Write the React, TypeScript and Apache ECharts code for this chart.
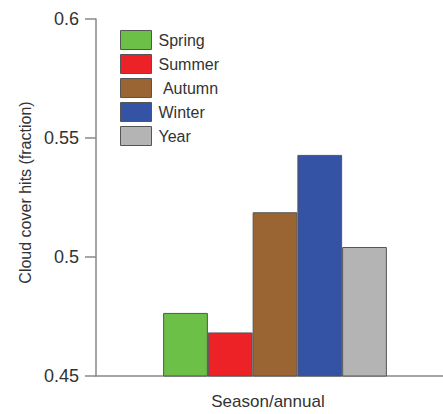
import React, { useEffect, useRef } from "react";
import * as echarts from "echarts";

const seriesNames = ["Spring", "Summer", "Autumn", "Winter", "Year"];
const seriesValues = [0.4765, 0.4683, 0.5188, 0.5429, 0.5042];
const seriesColors = ["#6cbf47", "#ec2227", "#9a6533", "#3553a4", "#b4b4b4"];
// category slots: two empty slots on the left, one per series, two empty on the right
const categories = ["", "", "Spring", "Summer", "Autumn", "Winter", "Year", "", ""];
const yTicks = [0.45, 0.5, 0.55, 0.6];

export default function App() {
  const ref = useRef<HTMLDivElement>(null);
  useEffect(() => {
    if (!ref.current) return;
    const chart = echarts.init(ref.current, undefined, { renderer: "svg" });
    const font = "Liberation Sans, Arial, Helvetica, sans-serif";
    const series = seriesNames.map((name, i) => ({
      name,
      type: "bar",
      barGap: "-100%",
      barWidth: "100%",
      data: categories.map((c) => (c === name ? seriesValues[i] : "-")),
      itemStyle: { color: seriesColors[i], borderColor: "#555", borderWidth: 1 },
    }));
    chart.setOption({
      animation: false,
      backgroundColor: "#fff",
      textStyle: { fontFamily: font },
      grid: {
        left: 96,
        top: 19,
        width: 358,
        height: 357,
        containLabel: false,
        outerBoundsMode: "none",
      },
      legend: {
        orient: "vertical",
        left: 120,
        top: 30,
        padding: 0,
        itemWidth: 31,
        itemHeight: 19,
        itemGap: 4,
        icon: "rect",
        selectedMode: false,
        itemStyle: { borderColor: "#555", borderWidth: 1 },
        formatter: (n: string) => (n === "Autumn" ? "\u00a0Autumn" : n),
        textStyle: { fontSize: 16, color: "#333", fontFamily: font, padding: [0, 0, 0, 2] },
        data: seriesNames,
      },
      xAxis: {
        type: "category",
        data: categories,
        boundaryGap: false,
        name: "Season/annual",
        nameLocation: "middle",
        nameGap: 17,
        nameTextStyle: { fontSize: 17, color: "#333", fontFamily: font, padding: [0, 14, 0, 0] },
        axisLine: { lineStyle: { color: "#888", width: 1.5 } },
        axisTick: { show: false },
        axisLabel: { show: false },
        splitLine: { show: false },
      },
      yAxis: {
        type: "value",
        min: yTicks[0],
        max: yTicks[yTicks.length - 1],
        interval: 0.05,
        name: "Cloud cover hits (fraction)",
        nameLocation: "middle",
        nameGap: 63,
        nameTextStyle: { fontSize: 16, color: "#333", fontFamily: font, padding: [0, 0, 0, 10] },
        axisLine: { show: true, lineStyle: { color: "#888", width: 1.5 } },
        axisTick: { show: true, length: 11, lineStyle: { color: "#888", width: 1.5 } },
        axisLabel: {
          fontSize: 18,
          color: "#333",
          margin: 17,
          fontFamily: font,
          formatter: (v: number) => String(+v.toFixed(2)),
        },
        splitLine: { show: false },
      },
      series,
    });
    return () => chart.dispose();
  }, []);
  return <div ref={ref} style={{ width: 443, height: 414, position: "fixed", left: 0, top: 0 }} />;
}
